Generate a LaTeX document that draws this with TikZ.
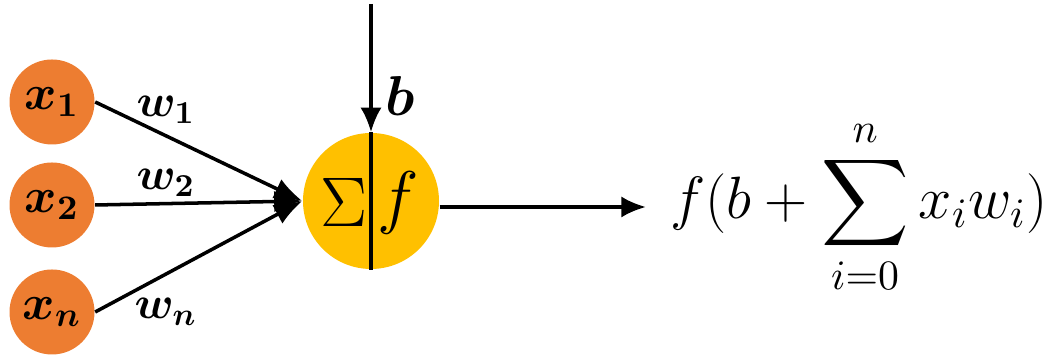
\RequirePackage{fix-cm}
\documentclass[tikz,border=0pt]{standalone}
\usepackage{amsmath}
\usepackage{bm}
\usetikzlibrary{arrows.meta}
\definecolor{inorange}{HTML}{ED7D31}
\definecolor{sumyellow}{HTML}{FFC000}
\begin{document}
\begin{tikzpicture}[
    inp/.style={circle, fill=inorange, minimum size=0.85cm, inner sep=0pt, font=\fontsize{14}{16}\selectfont},
    neuron/.style={circle, fill=sumyellow, minimum size=1.36cm, inner sep=0pt},
    wlab/.style={font=\fontsize{13}{15}\selectfont},
    conn/.style={line width=1pt, -{Latex[length=8pt,width=6pt]}}
  ]
  \useasboundingbox (0,0) rectangle (10.56,3.56);

  % Eingaenge
  \node[inp] (x1) at (0.52,2.54) {$\bm{x_1}$};
  \node[inp] (x2) at (0.52,1.51) {$\bm{x_2}$};
  \node[inp] (xn) at (0.52,0.44) {$\bm{x_n}$};

  % Neuron
  \node[neuron] (sum) at (3.71,1.55) {};
  \draw[line width=0.9pt] (sum.north) -- (sum.south);
  \node[font=\fontsize{20}{22}\selectfont] (sig) at (3.44,1.53) {$\Sigma$};
  \node[font=\fontsize{20}{22}\selectfont] (act) at (3.98,1.53) {$f$};

  % Gewichte
  \draw[conn] (x1.east) -- (sum.west);
  \draw[conn] (x2.east) -- (sum.west);
  \draw[conn] (xn.east) -- (sum.west);
  \node[wlab] (w1) at (1.66,2.46) {$\bm{w_1}$};
  \node[wlab] (w2) at (1.66,1.73) {$\bm{w_2}$};
  \node[wlab] (wn) at (1.66,0.44) {$\bm{w_n}$};

  % Bias
  \coordinate (bias) at (3.71,3.52);
  \draw[conn, -{Latex[length=7pt,width=6pt]}] (bias) -- (sum.north);
  \node[font=\fontsize{16}{18}\selectfont] (b) at (4.00,2.60) {$\bm{b}$};

  % Ausgang
  \node[font=\fontsize{17}{21}\selectfont, anchor=west] (out) at (6.58,1.49)
    {$\displaystyle f(b+\sum_{i=0}^{n} x_i w_i)$};
  \draw[conn, -{Latex[length=7pt,width=6pt]}, shorten >=0.12cm] (sum.east |- out.west) -- (out.west);
\end{tikzpicture}
\end{document}
